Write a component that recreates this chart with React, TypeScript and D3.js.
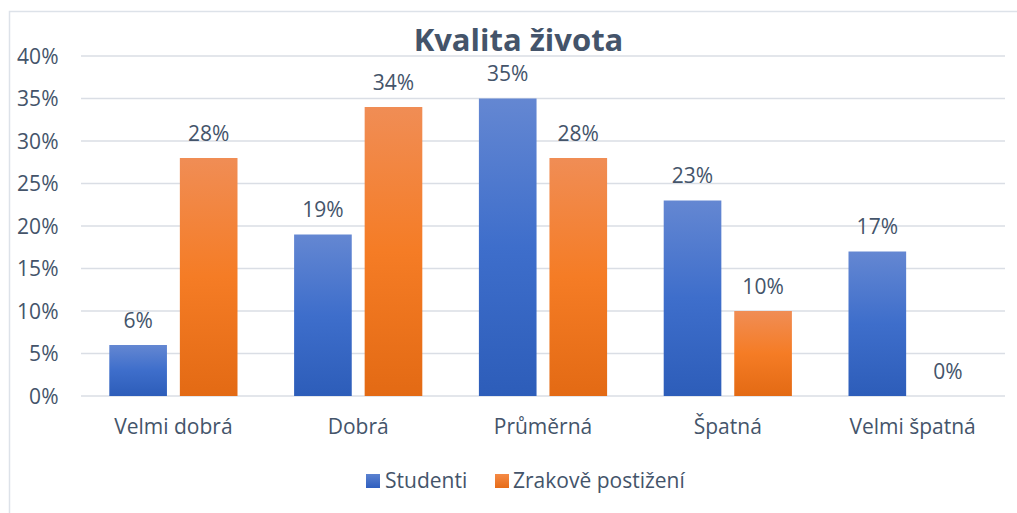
import React from "react";
import * as d3 from "d3";

const categories = ["Velmi dobrá", "Dobrá", "Průměrná", "Špatná", "Velmi špatná"];
const seriesNames = ["Studenti", "Zrakově postižení"];
const studenti = [6, 19, 35, 23, 17];
const zrakove = [28, 34, 28, 10, 0];
const yTicks = [0, 5, 10, 15, 20, 25, 30, 35, 40];
const title = "Kvalita života";

const W = 1017;
const H = 513;
const FONT = "'Open Sans', 'Noto Sans', sans-serif";
const TEXT = "#44546a";

export default function App() {
  const x = d3.scaleBand<string>().domain(categories).range([81, 1005]).padding(0);
  const bw = x.bandwidth();
  const inner = d3.scaleBand<string>().domain(seriesNames).range([28.3, bw - 28.3]).paddingInner(0.183).paddingOuter(0);
  const y = d3.scaleLinear().domain([0, 40]).range([396, 56]);
  const series = [
    { name: seriesNames[0], values: studenti, grad: "gBlue" },
    { name: seriesNames[1], values: zrakove, grad: "gOrange" },
  ];

  return (
    <svg width={W} height={H} style={{ position: "absolute", left: 0, top: 0, background: "#fff" }} fontFamily={FONT}>
      <defs>
        <linearGradient id="gBlue" x1="0" y1="0" x2="0" y2="1">
          <stop offset="0" stopColor="#6487d2" />
          <stop offset="0.5" stopColor="#3e6ecb" />
          <stop offset="1" stopColor="#2d5db9" />
        </linearGradient>
        <linearGradient id="gOrange" x1="0" y1="0" x2="0" y2="1">
          <stop offset="0" stopColor="#f08d55" />
          <stop offset="0.5" stopColor="#f57c25" />
          <stop offset="1" stopColor="#e36a14" />
        </linearGradient>
        <linearGradient id="lBlue" x1="0" y1="0" x2="0" y2="1">
          <stop offset="0" stopColor="#5b82d0" />
          <stop offset="1" stopColor="#2f5fbf" />
        </linearGradient>
        <linearGradient id="lOrange" x1="0" y1="0" x2="0" y2="1">
          <stop offset="0" stopColor="#f58a45" />
          <stop offset="1" stopColor="#e66c18" />
        </linearGradient>
      </defs>
      <rect x={9.5} y={11.5} width={W + 10} height={H + 10} fill="#fff" stroke="#dde2e9" strokeWidth={1.5} />
      <text x={518.5} y={50.5} textAnchor="middle" fontSize={31} fontWeight="bold" fill={TEXT}>
        {title}
      </text>
      {yTicks.map((t) => (
        <g key={t}>
          <line x1={81} x2={1005} y1={y(t)} y2={y(t)} stroke="#dadee5" strokeWidth={1.5} />
          <text x={58.5} y={y(t) + 7.5} textAnchor="end" fontSize={21} fill={TEXT}>
            {t}%
          </text>
        </g>
      ))}
      {categories.map((c, i) => (
        <g key={c} transform={`translate(${x(c)},0)`}>
          {series.map((s) => {
            const v = s.values[i];
            const bx = inner(s.name)!;
            const w = inner.bandwidth();
            return (
              <g key={s.name}>
                {v > 0 && (
                  <rect x={bx} y={y(v)} width={w} height={y(0) - y(v)} fill={`url(#${s.grad})`} />
                )}
                <text x={bx + w / 2} y={y(v) - 17.5} textAnchor="middle" fontSize={21} fill={TEXT}>
                  {v}%
                </text>
              </g>
            );
          })}
          <text x={bw / 2} y={433.5} textAnchor="middle" fontSize={21} fill={TEXT}>
            {c}
          </text>
        </g>
      ))}
      <g>
        <rect x={366} y={474} width={14} height={14} fill="url(#lBlue)" />
        <text x={385} y={488} fontSize={21} fill={TEXT}>
          {seriesNames[0]}
        </text>
        <rect x={495} y={474} width={14} height={14} fill="url(#lOrange)" />
        <text x={513} y={488} fontSize={21} fill={TEXT}>
          {seriesNames[1]}
        </text>
      </g>
    </svg>
  );
}
